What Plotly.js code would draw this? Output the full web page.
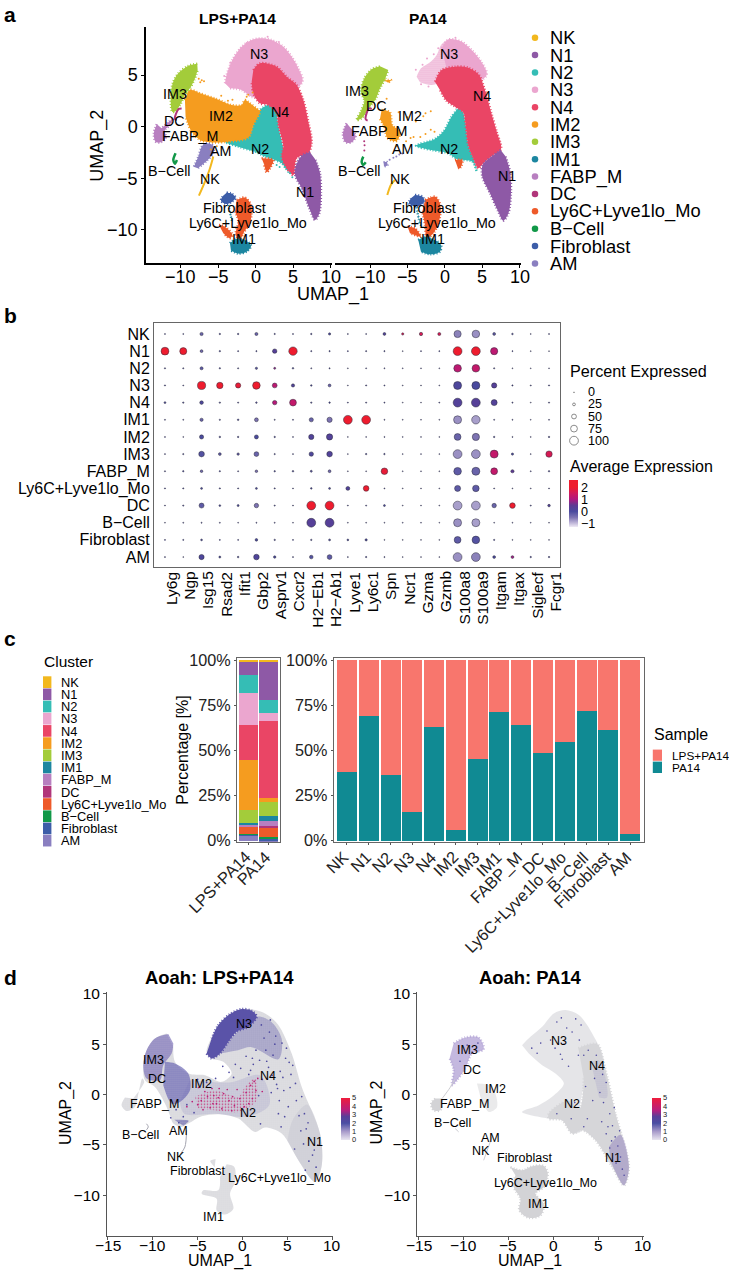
<!DOCTYPE html>
<html>
<head>
<meta charset="utf-8">
<script src="https://cdn.plot.ly/plotly-3.0.1.min.js"></script>
<style>html,body{margin:0;padding:0;background:#fff}</style>
</head>
<body>
<div id="chart"></div>
<script>
// cluster names and colours
const clusters = ['NK','N1','N2','N3','N4','IM2','IM3','IM1','FABP_M','DC','Ly6C+Lyve1lo_Mo','B−Cell','Fibroblast','AM'];
const clusterColors = ['#f2b81e','#8e59a6','#35bdb5','#eba6cf','#ea4565','#f59c1f','#a3cc3a','#1c86a0','#b87fc0','#b1357a','#ee5a2a','#119848','#3c5da8','#8a7fc0'];

// panel a, LPS+PA14 cluster outlines in UMAP units
const a1N3 = [[-4.1,4.2],[-3.88,5],[-3.12,6.45],[-1.87,7.74],[-.53,8.39],[.58,8.55],[2.14,8.39],[3.7,7.74],[4.81,6.77],[5.7,5.65],[6.24,4.35],[3.03,2.74],[-.53,2.9],[-1.87,3.55],[-3.43,3.71]];
const a1N4 = [[-.31,5.48],[.58,6.13],[2.81,5.81],[4.14,4.84],[5.48,4.03],[6.37,2.58],[7.04,.48],[7.49,-1.45],[7.04,-2.58],[5.48,-3.06],[5.04,-4.68],[4.14,-4.03],[3.48,-2.9],[3.7,-1.94],[3.03,.16],[2.81,1.29],[1.69,2.1],[.58,2.26],[-.31,3.23],[-.53,4.35]];
const a1N2 = [[1.78,2.16],[.58,1.61],[-.31,.16],[-.98,-.97],[-4.1,-1.45],[-2.32,-1.94],[-.09,-2.42],[1.25,-2.9],[3.48,-3.55],[4.37,-4.35],[3.7,-2.1],[3.03,.16],[2.81,1.39]];
const a1N1 = [[7.26,-2.48],[6.15,-2.81],[5.35,-3.87],[5.26,-4.68],[6.15,-5.97],[7.26,-8.06],[7.93,-9.03],[8.51,-8.39],[8.73,-6.29],[8.6,-4.52],[8.02,-3.23]];
const a1IM2 = [[-9.45,2.58],[-8.78,3.55],[-7.44,3.23],[-5.21,2.68],[-3.21,2.1],[-1.87,2.1],[-1.43,2.58],[-.76,2.26],[.13,1.77],[.58,1.52],[-.31,.16],[-.98,-1.06],[-3.65,-1.45],[-6.1,-1.52],[-7.44,-1.29],[-8.56,-.48],[-9.36,.97]];
const a1IM3 = [[-7.8,6.1],[-9,5.9],[-10.34,5.16],[-11,4.35],[-11.32,3.23],[-11.14,1.45],[-10.7,1.5],[-9.98,2.26],[-9.54,3],[-8.78,3.71],[-8.2,4.52],[-7.75,5.48]];
const a1IM1 = [[-3.43,-11.29],[-2.67,-10.87],[-1.43,-10.97],[-.62,-11.52],[-1.2,-12.1],[-2.32,-12.29],[-3.3,-12],null,[-3.65,-7.58],[-3.1,-9.19],[-3.05,-9.19]];
const a1FABP = [[-13.2,.23],[-13.6,-.65],[-13.37,-1.45],[-12.7,-1.52],[-12.03,-1.13],[-12.12,-.32],[-11.68,0],[-11,.8],[-11.58,.48],[-12.57,-.16]];
const a1DC = [[-9.89,1.77],[-10.3,1.7],[-10.8,.75],[-10.55,.65]];
const a1Ly6C = [[-2.54,-7.1],[-1.43,-6.87],[-.62,-7.58],[-.71,-9.19],[-1.65,-10.32],[-2.09,-10.97],[-2.67,-10.48],[-2.32,-9.19],[-2.76,-8.23],null,[-4.9,-9.52],[-4.1,-9.68],[-3.12,-10.48],[-3.43,-10.8],[-4.32,-10.32],null,[.8,-3.06],[2.36,-3.23],[1.92,-4.03],[1.47,-4.42],[1.16,-3.71]];
const a1B = [[-10.7,-2.58],[-11,-3.23],[-10.78,-3.58],[-10.52,-3.23]];
const a1Fibro = [[-3.88,-6.39],[-3.3,-6.45],[-2.67,-6.87],[-3.12,-7.26],[-3.88,-7.48],[-4.63,-7.19],[-4.46,-6.77]];
const a1AM = [[-8.24,-3.87],[-7.66,-2.9],[-7.13,-1.84],[-6.55,-1.61],[-5.66,-1.84],[-5.66,-2.58],[-6.55,-3.32],[-7.75,-4.03]];
const a1NK = [[-7.58,-6.68],[-6.77,-5.32],[-6.1,-4.03],[-5.66,-2.9]];
const a1StrayIM2 = [[-7.6,4.65],[-7.2,4.5],[-6.9,4.4],[-7.4,4.3],[-6.5,2.9],[-4.6,3],[-3.7,2.5],[-1.2,2.9],[-1,3.1],[-.4,3.3],[-3.1,2.6],[-5.2,-1.9],[-6,-2.2]];
const a1StrayN2 = [[4.6,-4.5],[4.9,-4.9],[3.9,-3.9],[2.8,-3.7],[3.2,-3.9]];
const a1StrayN3 = [[-1.2,8.1],[-3.4,6.2],[-4.2,4.9],[3.1,8.2],[1.6,8.7]];

// panel a, PA14 cluster outlines
const a2N3Sparse = [[-3.79,4.84],[-3.21,5.65],[-2,6.23],[-1.11,6.94],[-.45,7.97],[.67,8.48],[1.6,5.6],[0,4.6],[-1.78,4.03],[-3.34,4.29]];
const a2N3 = [[-.45,7.6],[.2,8.3],[.67,8.48],[2.23,8.23],[3.79,7.26],[4.9,6.23],[5.57,5],[3.12,4.03],[.3,5.4]];
const a2N4 = [[-1.34,4.35],[-.45,5.48],[1.34,5.81],[3.12,5.71],[4.55,5],[5.26,3.71],[6.15,1.45],[6.91,-.48],[7.49,-2.16],[6.33,-2.81],[5.12,-3.55],[4.46,-4.03],[3.79,-3.06],[3.12,-1.77],[2.76,.16],[2.45,1.39],[1.34,1.94],[.22,2.48],[-.67,3.55]];
const a2N2 = [[1.87,1.87],[.89,.97],[-.22,-.48],[-1.34,-1.19],[-3.88,-1.84],[-1.78,-2.26],[.45,-2.58],[1.56,-3.13],[3.65,-3.39],[4.23,-4.35],[3.79,-3.06],[3.12,-1.77],[2.76,.16],[2.45,1.39]];
const a2N1 = [[7.44,-2.26],[6.24,-2.9],[5.04,-3.71],[4.99,-4.84],[6.02,-6.45],[7.13,-8.23],[7.8,-9.1],[8.47,-8.39],[8.82,-6.45],[8.69,-4.35],[8.11,-2.9]];
const a2IM2 = [[-8.47,1.61],[-7.35,1.39],[-7.04,.16],[-6.02,-.48],[-6.46,-1.39],[-7.66,-1.13],[-8.11,0],[-8.69,.74],null,[-8.1,4.5],[-7.2,4.5],[-7.6,4.25]];
const a2IM3 = [[-8.69,5.84],[-9.8,5.55],[-10.78,4.68],[-11.23,3.39],[-10.78,2.48],[-11.23,1.52],[-11.81,.65],[-11.14,.81],[-10.03,1.94],[-9.27,2.68],[-8.69,3.71],[-8.02,4.61],[-7.58,5.48]];
const a2IM1 = [[-3.57,-10.97],[-2.67,-10.65],[-1.34,-10.97],[-.53,-11.45],[-.67,-12.1],[-2,-12.35],[-3.21,-12.1],null,[-3.8,-7.8],[-3.3,-9.5],[-3.25,-9.5]];
const a2FABP = [[-13.15,.32],[-13.64,-.65],[-13.37,-1.45],[-12.61,-1.55],[-11.94,-.97],[-12.48,-.23]];
const a2DC = [[-9.8,1.71],[-10.16,1.77],[-10.61,.74],[-10.34,.58]];
const a2Ly6C = [[-2.67,-7.1],[-1.34,-6.77],[-.62,-7.58],[-.8,-9.19],[-1.56,-10.32],[-2.45,-10.81],[-2.67,-9.52],[-3.03,-8.23],null,[-4.99,-9.68],[-4.01,-9.84],[-3.21,-10.65],[-3.79,-10.55],[-4.68,-10.32],null,[1.34,-3.23],[2.32,-3.23],[2.14,-3.87],[1.78,-4.13]];
const a2B = [[-10.92,-2.9],[-11.14,-3.39],[-10.92,-3.71],[-10.6,-3.45]];
const a2Fibro = [[-4.01,-6.61],[-3.03,-6.77],[-2.76,-7.26],[-3.79,-7.74],[-4.81,-7.42],[-4.55,-6.94]];
const a2AM = [[-8.2,-3.5],[-7.8,-3.4],[-7.7,-3.75],[-8.15,-3.85]];
const a2NK = [[-7.71,-6.61],[-7.2,-5.6],[-6.68,-5.16]];
const a2StrayIM2 = [[-2.6,1.3],[-1.9,1.5],[-2.9,1],[-1.4,-.5],[-1.9,-.3],[-2.6,-.7],[-3.3,-1],[-4.2,-1],[-4.6,-1.1],[-5.2,-1.4],[-3.9,.5],[-5,.9],[-6.2,1.4],[-8.8,2.3],[-7.8,2.7],[-6.4,-1.9]];
const a2StrayAM = [[-7.4,-3.2],[-6.9,-3],[-6.5,-2.9],[-6.1,-2.7],[-5.7,-2.6]];
const a2StrayN3 = [[-2.4,6.6],[-3,6],[-3.9,5.5],[-3.2,4.1],[-2.2,3.9],[-1.5,7],[-.9,7.6],[1.4,8.6]];
const a2StrayB = [[-10.78,-2.3],[-10.75,-1.8],[-10.8,-1.4]];

// panel a labels, pixel places
const aLabelNames = ['N3','IM3','N4','IM2','DC','FABP_M','AM','N2','B−Cell','NK','N1','Fibroblast','Ly6C+Lyve1lo_Mo','IM1'];
const a1LabelX = [259,175,279.5,220.6,174.8,190,220.6,259.8,169.6,210.3,304.7,234.6,248,243.5];
const a1LabelY = [54,94,112,115.7,121,136,150.7,149.3,171,179,192,207.7,222.7,238.7];
const a2LabelX = [448.6,356.5,482,410,376.6,379,402.8,449,359.3,400,506.5,424.3,437.4,433];
const a2LabelY = [54,90.7,96,115.7,105.7,131.3,149,149,171,179,175.7,207.7,222.7,238.7];
const aXTicks = [-10,-5,0,5,10];
const dXTicks = [-15,-10,-5,0,5,10];

// panel b dot plot
const genes = ['Ly6g','Ngp','Isg15','Rsad2','Ifit1','Gbp2','Asprv1','Cxcr2','H2−Eb1','H2−Ab1','Lyve1','Ly6c1','Spn','Ncr1','Gzma','Gzmb','S100a8','S100a9','Itgam','Itgax','Siglecf','Fcgr1'];
const dotRows = ['NK','N1','N2','N3','N4','IM1','IM2','IM3','FABP_M','Ly6C+Lyve1lo_Mo','DC','B−Cell','Fibroblast','AM'];
const pctExpressed = [
  [3,3,30,8,8,28,6,4,8,18,3,3,25,18,32,28,80,85,25,10,2,4],
  [88,78,25,8,4,5,45,95,5,6,3,5,5,2,3,3,100,100,80,3,2,2],
  [6,5,28,7,5,18,15,10,4,5,2,3,3,2,2,2,85,85,6,2,1,2],
  [5,3,92,70,55,85,50,30,10,25,2,5,4,2,2,2,90,90,55,6,4,5],
  [14,8,35,8,5,10,45,75,8,9,3,5,4,2,2,3,100,100,65,5,2,5],
  [4,3,30,6,10,38,4,4,42,55,100,100,3,2,2,2,90,95,4,3,1,3],
  [3,2,42,10,8,40,8,3,55,68,2,2,3,2,2,2,75,80,8,3,2,8],
  [3,6,60,25,20,50,6,3,45,60,2,8,8,2,2,2,100,100,90,18,2,70],
  [5,8,22,6,4,22,8,10,15,25,2,2,72,2,2,2,85,90,75,30,3,8],
  [4,5,14,6,4,14,5,3,10,14,38,60,3,2,2,2,65,72,3,2,2,3],
  [3,6,52,12,15,45,5,3,100,100,3,4,14,2,2,2,100,100,45,60,4,22],
  [2,3,4,3,2,3,3,2,100,100,2,2,2,2,2,1,90,90,2,2,1,2],
  [3,4,12,3,3,22,8,3,8,14,12,18,2,2,2,2,75,85,6,2,2,2],
  [4,2,55,15,10,60,20,4,35,50,3,7,4,2,2,2,100,100,25,25,8,8]
];
const avgExpression = [
  [0,0,-.3,0,0,-.3,0,0,0,0,0,0,.2,1.6,1.6,1.6,-.6,-.7,-.2,0,0,0],
  [2,2,-.4,0,0,0,.3,2,0,0,0,0,0,0,0,0,2,2,1.2,0,0,0],
  [0,0,-.2,0,0,-.1,.8,0,0,0,0,0,0,0,0,0,1.2,1.3,0,0,0,0],
  [0,0,2,2,1.9,2,1.2,.2,0,-.3,0,0,0,0,0,0,.1,0,.3,0,0,0],
  [0,0,.1,0,0,-.2,1.1,1.3,0,0,0,0,0,0,0,0,.25,.3,.25,0,0,0],
  [0,0,-.3,0,0,-.5,0,0,-.3,-.5,2,2,0,0,0,0,-.7,-.8,0,0,0,0],
  [0,0,0,0,0,0,0,0,.2,.25,0,0,0,0,0,0,-.3,-.5,0,0,0,0],
  [0,0,-.1,-.2,-.2,-.3,0,0,.1,.2,0,0,0,0,0,0,-.7,-.7,1.3,0,0,1.6],
  [0,0,-.4,0,0,-.5,0,0,-.2,-.4,0,0,1.9,0,0,0,-.2,-.3,1.3,.5,0,0],
  [0,0,0,0,0,0,0,0,0,0,.2,2,0,0,0,0,-.2,-.2,0,0,0,0],
  [0,0,-.2,0,0,-.5,0,0,2,2,0,0,0,0,0,0,-.8,-.8,-.3,2,0,.2],
  [0,0,0,0,0,0,0,0,.3,.3,0,0,0,0,0,0,-.7,-.8,0,0,0,0],
  [0,0,0,0,0,0,0,0,0,0,0,0,0,0,0,0,-.2,-.1,0,0,0,0],
  [0,0,.1,0,0,.15,0,0,-.1,-.2,0,0,0,0,0,0,-.7,-.6,0,.9,0,0]
];
const pctLegendValues = [0,25,50,75,100];

// panel c, stacked shares per cluster (same order as clusters)
const shareLPS = [.6,7.2,10,18,19.2,27.5,7.2,1.1,.7,.2,4.2,.3,.5,3];
const sharePA14 = [.4,21.4,7.4,4.2,42.9,1.8,8.1,2.8,2.8,.3,5.6,.5,1,.5];
const sampleNames = ['LPS+PA14','PA14'];
const samplePA14 = [38,69,36.5,16,63,6,45.5,71,64,48.5,54.5,72,61.5,4];
const sampleLPS = [62,31,63.5,84,37,94,54.5,29,36,51.5,45.5,28,38.5,96];

// panel d, LPS+PA14 regions
const d1Base = [[-8.46,6.06],[-9.76,5.56],[-10.69,4.4],[-11.06,2.91],[-10.87,1.42],[-9.76,.76],[-8.64,-.89],[-8.09,-2.05],[-7.71,-2.88],[-6.78,-3.21],[-6.04,-2.88],[-4.55,-2.15],[-2.51,-1.95],[-.46,-2.38],[1.39,-3.71],[2.51,-3.28],[4.37,-3.87],[6.23,-6.52],[8.09,-8.68],[8.83,-7.02],[8.64,-3.87],[6.6,.76],[5.48,4.07],[3.99,6.89],[2.51,8.05],[.46,8.48],[-1.58,7.88],[-3.07,6.23],[-4,4.24],[-3.44,3.58],[-2.14,3.25],[-1.21,2.09],[-2.32,1.26],[-4.18,1.92],[-6.04,2.09],[-7.53,3.25],[-7.71,4.74]];
const d1N1 = [[6.2,-6.5],[8.09,-8.68],[8.83,-7.02],[8.64,-3.87],[7.2,-1],[5.6,-2.5],[5,-4.6]];
const d1Low = [[-13.1,-.3],[-13.48,-1.06],[-12.92,-1.62],[-11.99,-1.23],[-11.6,.1],[-11.17,1.59],[-10.95,1.26],[-12.18,-.4],null,[-1.77,-6.92],[-.91,-7.19],[-.84,-8.68],[-1.39,-9.83],[-1.02,-11.32],[-1.95,-11.89],[-2.88,-11.49],[-2.88,-10.33],[-4.55,-9.83],[-4.37,-9.5],[-2.7,-9.5],[-2.51,-8.18],null,[-3,-6.4],[-3.6,-6.6],[-3.1,-7.2]];
const d1Lines = [[-6.23,-3.54],[-6.42,-5.2],[-6.9,-5.86],null,[-10.7,-2.9],[-10.5,-3.2],[-10.7,-3.5]];
const d1N3Dense = [[-4,4.07],[-3.44,3.58],[-2.51,4.07],[-1.58,5.23],[-.65,6.23],[.65,6.72],[1.58,7.72],[1.02,8.31],[-.09,8.48],[-1.39,7.98],[-2.7,6.89],[-3.44,5.56]];
const d1N3Mid = [[-1.58,5.23],[1.58,7.72],[3.25,7.18],[4.37,5.5],[4,3.5],[1,4.7],[-.5,4.4],[-2.5,4.07]];
const d1IM3 = [[-8.27,6],[-9.76,5.56],[-10.69,4.4],[-11.06,2.91],[-10.69,1.59],[-9.2,1.42],[-8.83,2.91],[-7.9,4.07],[-7.71,5.07]];
const d1IM2 = [[-8.64,3.25],[-7.53,3.08],[-6.04,2.09],[-5.85,.43],[-6.97,-.73],[-7.9,-.89],[-8.83,.93]];
const d1Mix = [[-5.85,1.5],[-1.5,1.2],[2,1.9],[3,-1],[.5,-2.2],[-3,-1.9],[-6.5,-1.9],[-7,-.7]];
const d1Pink = [[-5.3,-.23],[-3.07,.43],[-.46,-.23],[.28,.76],[1.39,1.59],[1.58,-.56],[-.46,-1.72],[-3.07,-1.56],[-4.93,-1.39]];
const d1AMTip = [[-7.6,-2.5],[-6,-2.6],[-6.6,-3.1]];
const d1SpeckX = [2.1,3,3.7,4.4,2.6,3.4,4.8,5.2,1.9,2.9,4.2,5.4,5.9,3.8,4.6,1.2,2.2,3.2,4.1,5.1,6,6.3,.9,1.8,7.1,7.6,8,7.4,8.2,6.8,-.8,-2.2,-1.5,
  3.1,3.6,2.4,4.9,5.6,4.5,3.3,1.5,.4,2.7,4,5.3,6.6,6.9,7.3,6.5,7.8,8.4,7,5.8,4.3,2,-.2,.7,1.1,3.9,4.7,-1,-3,-4,-5,-6.2,-7.4,-8,-7.1,-6.6,-5.4];
const d1SpeckY = [6.9,6.2,5.8,5.1,4.4,3.9,3.6,3.2,3.4,2.7,2.3,2,1.1,1,.4,3,1.5,.2,-.6,-1.2,-.6,-2.1,2.4,-.1,-3.4,-4.5,-5.5,-6.6,-7.2,-4.9,3,2.8,2.2,
  7.4,5,5.6,4.6,2.9,1.7,1.9,4.4,3.8,3.3,-1.9,.7,-.2,-1.9,-2.8,-3.6,-6,-5,-7.5,-5.4,-3.2,-2.9,2.6,2,3.6,.6,-2.2,1.7,1.6,1.2,1.5,-1,-1.5,-2.3,-2.8,-2.2,-1.8];
const d1SpeckPinkX = [-4.6,-3.9,-3.3,-2.7,-2.1,-1.5,-.9,-.3,.4,.9,1.3,1.1,-3.6,-2.9,-2.3,-1.7,-1.1,-4.2,-5,-2.6,-3.2,.7,1.5,-5.6,-4.4,-3.4,-1.2,-.6,.2,1.7,2.2,-6.2,-4.9];
const d1SpeckPinkY = [-.6,-.2,-.9,-.3,.1,-.6,-1.1,-.4,.2,.9,1.3,-.4,-1.3,-.9,-1.4,.5,-.2,.3,-1,.6,-.1,-.9,.4,-.7,-1.5,.6,-1.6,.5,-1.2,1.6,.3,-1.2,.7];

// panel d, PA14 regions
const d2Sparse = [[-3.48,4.9],[-2.55,5.73],[-1.24,6.72],[.06,8.05],[1.36,8.38],[2.85,7.88],[4.34,6.06],[5.65,3.08],[4,2],[3,-1],[3.22,-3.54],[2.11,-3.87],[.99,-2.55],[-.5,-2.38],[-3.48,-1.72],[-1.61,-1.06],[-.13,-.23],[1.18,1.09],[.24,2.09],[-1.24,2.91],[-2.73,4.07]];
const d2Dense = [[2.8,4.6],[4.9,5],[5.65,3.08],[6.95,-1.89],[8.44,-7.19],[7.88,-9.01],[6.58,-7.19],[4.71,-4.54],[3.22,-3.54],[2.11,-3.87],[.99,-2.55],[-.5,-2.38],[-.5,-1.9],[1.7,-.6],[2.9,-1.4],[3.4,1.6]];
const d2N1Tint = [[6.4,-6.6],[7.88,-9.01],[8.44,-7.19],[7.5,-4],[6.2,-5.2]];
const d2N4Tint = [[4.2,3.2],[5.1,3.4],[6,-.3],[5.1,-.3]];
const d2Low = [[-4.78,-7.19],[-3.48,-7.52],[-2.36,-7.12],[-1.06,-7.09],[-.61,-7.85],[-1.06,-9.17],[-2,-9.83],[-1.06,-10.83],[-1.43,-11.99],[-2.73,-12.22],[-3.78,-11.49],[-3.66,-10.33],[-4.41,-9.17],[-4.22,-8.01],null,[-13.16,-.4],[-13.61,-.89],[-13.35,-1.56],[-12.6,-1.56],[-12.41,-.4]];
const d2IM2 = [[-8.51,1.09],[-6.83,.76],[-6.27,-1.23],[-7.2,-1.72],[-8.13,-.23]];
const d2IM3 = [[-11.11,5.07],[-9.81,5.66],[-8.32,5.66],[-7.76,4.47],[-9.07,4.07],[-9.81,2.58],[-10.74,1.42],[-11.3,.93],[-11.11,2.42],[-11.56,3.58]];
const d2Lines = [[-12.4,-.4],[-11.5,.7],[-11,1.5],null,[-6.83,-4.2],[-7.76,-6.52],null,[-10.93,-3.38],[-10.55,-3.7]];
const d2SpeckX = [-.7,.4,1.2,2.1,2.9,3.4,4.2,1.7,-1.4,-2.4,3.6,4.6,5.2,5.6,5.9,6.3,6.6,6.9,7.2,7.5,7.7,7,6.3,5.4,-9.6,-9.1,-10.4,-8.4,.8,2.4,
  .9,2.5,3.1,3.9,1.5,-.3,-1.8,1,.2,2.8,4.8,5.5,4.4,3.8,6.1,6.8,7.4,7.9,6.5,5.9,2,3.4,.4];
const d2SpeckY = [6.3,7.2,5,6.2,5.4,3.9,3.2,2.8,5.1,4.6,.8,1.6,.2,-.8,1.2,-1.9,-3.1,-4.2,-5.1,-6.2,-7.4,-6.8,-5.3,-2.7,4.9,4.1,3.3,5.1,4,-.8,
  7.6,7.5,6.9,4.4,6.6,5.4,4.1,3.5,4.6,3.9,3.9,2,-.6,-2.4,-3.2,-1.3,-3.6,-8,-4.6,-3.9,-2.4,-3.2,-1.9];

// panel d labels
const dLabelNames = ['N3','IM3','DC','IM2','N4','FABP_M','N2','B−Cell','AM','N1','NK','Fibroblast','Ly6C+Lyve1lo_Mo','IM1'];
const d1LabelX = [244,153.3,157,201.4,268.2,154.2,247.7,140.2,178,315.4,175.7,197.2,279.4,213.6];
const d1LabelY = [1024.3,1060,1079.3,1084.3,1076.3,1104.3,1113.3,1135,1130.7,1142,1157.3,1171.3,1178,1217];
const d2LabelX = [559.3,467.3,472.4,495.8,596.7,464.5,572,452.3,490.2,612.6,481.3,524.3,545.8,538.8];
const d2LabelY = [1040.7,1049.7,1070.3,1089.3,1065.7,1104.3,1104.3,1122.7,1137.7,1158,1151,1158.3,1183.3,1204.3];

const W = 729, H = 1275;
const FONT = '"Liberation Sans", Arial, sans-serif';
const xDom = (l, r) => [l / W, r / W];
const yDom = (t, b) => [1 - b / H, 1 - t / H];
const colorOf = name => clusterColors[clusters.indexOf(name)];

const expressionScale = [[0,'#efeaf5'],[.077,'#c5bcdc'],[.205,'#7d73b2'],[.333,'#4a4a9e'],[.46,'#5e3a94'],[.59,'#b0187f'],[.718,'#d01a5c'],[.846,'#ee1c2e'],[1,'#ee1c2e']];
const aoahScale = [[0,'#e9e6f0'],[.2,'#a99ccb'],[.4,'#4a4ea3'],[.56,'#5a3f98'],[.7,'#b4207f'],[1,'#ef1c3c']];

function xs(pts) { return pts.map(p => p ? p[0] : null); }
function ys(pts) { return pts.map(p => p ? p[1] : null); }

// dashed outline makes the edge of a filled cluster look grainy like the point cloud
function region(pts, color, ax, extra) {
  return Object.assign({
    x: xs(pts), y: ys(pts), xaxis: 'x' + ax, yaxis: 'y' + ax,
    type: 'scatter', mode: 'lines', fill: 'toself', fillcolor: color,
    line: { color: color, width: 2.4, dash: '1px,2px', shape: 'spline', smoothing: .9 }, hoverinfo: 'skip', showlegend: false
  }, extra || {});
}
function strays(pts, color, ax, size) {
  return {
    x: xs(pts), y: ys(pts), xaxis: 'x' + ax, yaxis: 'y' + ax, type: 'scatter', mode: 'markers',
    marker: { color: color, size: size || 2 }, hoverinfo: 'skip', showlegend: false
  };
}
function stipple(pts, fg, ax, size, solidity, bg) {
  return region(pts, 'rgba(0,0,0,0)', ax, {
    line: { width: 0, color: fg, shape: 'spline', smoothing: .9 },
    fillpattern: { shape: '.', fgcolor: fg, bgcolor: bg || 'rgba(255,255,255,0)', size: size, solidity: solidity }
  });
}
function thin(pts, color, ax, width) {
  return region(pts, 'rgba(0,0,0,0)', ax, { line: { color: color, width: width, shape: 'spline', smoothing: .9 } });
}

const traces = [];

// panel a
traces.push(
  region(a1N3, colorOf('N3'), 1), region(a1N2, colorOf('N2'), 1), region(a1IM2, colorOf('IM2'), 1),
  region(a1N4, colorOf('N4'), 1), region(a1N1, colorOf('N1'), 1), region(a1IM3, colorOf('IM3'), 1),
  thin(a1DC, colorOf('DC'), 1, 2), region(a1FABP, colorOf('FABP_M'), 1), region(a1AM, colorOf('AM'), 1),
  thin(a1NK, colorOf('NK'), 1, 2),
  thin(a1B, colorOf('B−Cell'), 1, 2.5), region(a1Ly6C, colorOf('Ly6C+Lyve1lo_Mo'), 1),
  region(a1Fibro, colorOf('Fibroblast'), 1), region(a1IM1, colorOf('IM1'), 1),
  strays(a1StrayIM2, colorOf('IM2'), 1), strays(a1StrayN2, colorOf('N2'), 1), strays(a1StrayN3, colorOf('N3'), 1)
);
traces.push(
  stipple(a2N3Sparse, colorOf('N3'), 2, 2, .55, 'rgba(235,166,207,.35)'), region(a2N3, colorOf('N3'), 2),
  region(a2N2, colorOf('N2'), 2), region(a2IM2, colorOf('IM2'), 2),
  region(a2N4, colorOf('N4'), 2), region(a2N1, colorOf('N1'), 2), region(a2IM3, colorOf('IM3'), 2),
  thin(a2DC, colorOf('DC'), 2, 2), region(a2FABP, colorOf('FABP_M'), 2), region(a2AM, colorOf('AM'), 2),
  thin(a2NK, colorOf('NK'), 2, 2),
  thin(a2B, colorOf('B−Cell'), 2, 2.5), region(a2Ly6C, colorOf('Ly6C+Lyve1lo_Mo'), 2),
  region(a2Fibro, colorOf('Fibroblast'), 2), region(a2IM1, colorOf('IM1'), 2),
  strays(a2StrayIM2, colorOf('IM2'), 2), strays(a2StrayAM, colorOf('AM'), 2),
  strays(a2StrayN3, colorOf('N3'), 2), strays(a2StrayB, colorOf('DC'), 2)
);
// legend dots of panel a, on the pixel overlay
traces.push({
  x: clusters.map(() => 535), y: clusters.map((c, i) => 37.7 + i * 17.36),
  xaxis: 'x8', yaxis: 'y8', type: 'scatter', mode: 'markers',
  marker: { color: clusterColors, size: 6.5 }, hoverinfo: 'skip', showlegend: false
});

// panel b
const dotSize = p => .8 + p / 100 * 8;
const dotX = [], dotY = [], dotS = [], dotC = [];
dotRows.forEach((r, i) => genes.forEach((g, j) => {
  dotX.push(g); dotY.push(r);
  dotS.push(dotSize(pctExpressed[i][j])); dotC.push(avgExpression[i][j]);
}));
traces.push({
  x: dotX, y: dotY, xaxis: 'x3', yaxis: 'y3', type: 'scatter', mode: 'markers', showlegend: false, hoverinfo: 'skip',
  marker: {
    size: dotS, color: dotC, cmin: -1.3, cmax: 2.6, colorscale: expressionScale,
    line: { color: '#2a2a3a', width: .5 }, opacity: 1,
    colorbar: {
      x: 569 / W, xanchor: 'left', xpad: 0, y: 1 - 480 / H, yanchor: 'top', ypad: 0,
      len: 47, lenmode: 'pixels', thickness: 9, thicknessmode: 'pixels', outlinewidth: 0,
      tickvals: [-1, 0, 1, 2], ticktext: ['−1', '0', '1', '2'], ticks: '', tickfont: { size: 12.6, family: FONT, color: '#000' }
    }
  }
});
traces.push({
  x: pctLegendValues.map(() => 574), y: pctLegendValues.map((p, i) => 392.3 + i * 12.1),
  xaxis: 'x8', yaxis: 'y8', type: 'scatter', mode: 'markers', showlegend: false, hoverinfo: 'skip',
  marker: { size: pctLegendValues.map(dotSize), color: 'rgba(255,255,255,0)', line: { color: '#333', width: .8 } }
});

// panel c left stack, NK on top so AM goes in first
for (let i = clusters.length - 1; i >= 0; i--) {
  traces.push({
    x: sampleNames, y: [shareLPS[i], sharePA14[i]], name: clusters[i], xaxis: 'x4', yaxis: 'y4', type: 'bar',
    marker: { color: clusterColors[i], line: { width: 0 } }, showlegend: false, hoverinfo: 'skip'
  });
}
traces.push(
  { x: clusters, y: samplePA14, name: 'PA14', xaxis: 'x5', yaxis: 'y5', type: 'bar', marker: { color: '#108a93', line: { width: 0 } }, showlegend: false, hoverinfo: 'skip' },
  { x: clusters, y: sampleLPS, name: 'LPS+PA14', xaxis: 'x5', yaxis: 'y5', type: 'bar', marker: { color: '#f8766d', line: { width: 0 } }, showlegend: false, hoverinfo: 'skip' }
);

// panel d
const GREY = '#bfbfc4', PURPLE = '#4d479f';
traces.push(
  stipple(d1Base, GREY, 6, 2, .4, '#efeff2'),
  stipple(d1N1, '#c4c4ce', 6, 2, .5),
  stipple(d1Low, GREY, 6, 2, .4, '#f0f0f3'),
  thin(d1Lines, '#a5a5b0', 6, 1),
  stipple(d1Mix, '#8d88c0', 6, 2, .3),
  stipple(d1N3Mid, '#5f58a8', 6, 2, .4),
  stipple(d1IM2, '#5753a8', 6, 2, .55, 'rgba(150,145,205,.35)'),
  stipple(d1IM3, '#6a5fae', 6, 2, .55, 'rgba(170,160,210,.35)'),
  stipple(d1Pink, '#c7407f', 6, 3, .22),
  region(d1N3Dense, '#5a53a8', 6),
  stipple(d1AMTip, PURPLE, 6, 2, .6)
);
traces.push({
  x: d1SpeckX.concat(d1SpeckPinkX), y: d1SpeckY.concat(d1SpeckPinkY), xaxis: 'x6', yaxis: 'y6', type: 'scatter', mode: 'markers', showlegend: false, hoverinfo: 'skip',
  marker: {
    size: 1.7, cmin: 0, cmax: 5, colorscale: aoahScale,
    color: d1SpeckX.map(() => 2.2).concat(d1SpeckPinkX.map(() => 3.7)),
    colorbar: {
      x: 341 / W, xanchor: 'left', xpad: 0, y: 1 - 1097.7 / H, yanchor: 'top', ypad: 0,
      len: 42, lenmode: 'pixels', thickness: 8.5, thicknessmode: 'pixels', outlinewidth: 0,
      tickvals: [0, 1, 2, 3, 4, 5], ticks: '', tickfont: { size: 7.5, family: FONT, color: '#222' }
    }
  }
});
traces.push(
  stipple(d2Sparse, '#c4c4c8', 7, 2, .32, 'rgba(240,240,243,.5)'),
  region(d2Dense, '#d6d6d9', 7),
  stipple(d2N1Tint, '#8674b8', 7, 2, .5),
  stipple(d2N4Tint, '#9a92c2', 7, 2, .3),
  region(d2Low, '#d3d3d6', 7),
  stipple(d2IM2, '#cfcfd2', 7, 2, .5),
  region(d2IM3, 'rgba(176,160,212,.75)', 7),
  thin(d2Lines, '#cdcdd2', 7, 1)
);
traces.push({
  x: d2SpeckX, y: d2SpeckY, xaxis: 'x7', yaxis: 'y7', type: 'scatter', mode: 'markers', showlegend: false, hoverinfo: 'skip',
  marker: {
    size: 1.6, cmin: 0, cmax: 5, colorscale: aoahScale, color: d2SpeckX.map(() => 2.2),
    colorbar: {
      x: 652 / W, xanchor: 'left', xpad: 0, y: 1 - 1097.7 / H, yanchor: 'top', ypad: 0,
      len: 42, lenmode: 'pixels', thickness: 8.5, thicknessmode: 'pixels', outlinewidth: 0,
      tickvals: [0, 1, 2, 3, 4, 5], ticks: '', tickfont: { size: 7.5, family: FONT, color: '#222' }
    }
  }
});

// text helper: places are page pixels
function txt(x, y, text, size, opts) {
  return Object.assign({
    xref: 'paper', yref: 'paper', x: x / W, y: 1 - y / H, text: text, showarrow: false, borderpad: 0,
    font: { size: size, family: FONT, color: '#000' }, xanchor: 'center', yanchor: 'middle'
  }, opts || {});
}
const annotations = [
  txt(3, 14, '<b>a</b>', 21, { xanchor: 'left' }), txt(3, 315, '<b>b</b>', 21, { xanchor: 'left' }),
  txt(3, 638, '<b>c</b>', 21, { xanchor: 'left' }), txt(3, 977, '<b>d</b>', 21, { xanchor: 'left' }),
  txt(238, 18, '<b>LPS+PA14</b>', 15.5), txt(428, 18, '<b>PA14</b>', 15.5),
  txt(333, 294, 'UMAP_1', 18), txt(98, 145.7, 'UMAP_2', 18, { textangle: -90 }),
  txt(183, 750.7, 'Percentage [%]', 16, { textangle: -90 }),
  txt(219.6, 977, '<b>Aoah: LPS+PA14</b>', 18.4), txt(530, 977, '<b>Aoah: PA14</b>', 18.4),
  txt(219.6, 1261, 'UMAP_1', 16), txt(530, 1261, 'UMAP_1', 16),
  txt(66, 1113, 'UMAP_2', 16, { textangle: -90 }), txt(376.6, 1113, 'UMAP_2', 16, { textangle: -90 }),
  txt(569, 371, 'Percent Expressed', 16.2, { xanchor: 'left' }),
  txt(569, 466, 'Average Expression', 16, { xanchor: 'left' }),
  txt(43, 661.7, 'Cluster', 15.5, { xanchor: 'left' }),
  txt(652.8, 734.3, 'Sample', 16, { xanchor: 'left' }),
  txt(670.6, 755.7, 'LPS+PA14', 11.8, { xanchor: 'left' }), txt(670.6, 767.7, 'PA14', 11.8, { xanchor: 'left' })
];
aLabelNames.forEach((n, i) => {
  annotations.push(txt(a1LabelX[i], a1LabelY[i], n, 14.3), txt(a2LabelX[i], a2LabelY[i], n, 14.3));
});
dLabelNames.forEach((n, i) => {
  annotations.push(txt(d1LabelX[i], d1LabelY[i], n, 12.5), txt(d2LabelX[i], d2LabelY[i], n, 12.5));
});
clusters.forEach((n, i) => {
  annotations.push(txt(549, 37.7 + i * 17.36, n, 18.3, { xanchor: 'left' }));
  annotations.push(txt(60, 682.3 + i * 12.19, n, 12.8, { xanchor: 'left' }));
});
pctLegendValues.forEach((p, i) => {
  annotations.push(txt(586.5, 392.3 + i * 12.1, String(p), 12.6, { xanchor: 'left' }));
});
genes.forEach((g, j) => {
  annotations.push({
    xref: 'x3', yref: 'paper', x: j, y: 1 - 570.5 / H, xshift: 6, text: g, showarrow: false, textangle: -90, borderpad: 0,
    font: { size: 15.5, family: FONT, color: '#000' }, xanchor: 'center', yanchor: 'top'
  });
});

// x tick labels sit closer to the axis than the library puts them, so they go in as text tied to the axis
function xTick(axis, value, y, size) {
  const label = typeof value === 'number' && value < 0 ? '−' + Math.abs(value) : String(value);
  return {
    xref: axis, yref: 'paper', x: value, y: 1 - y / H, text: label, showarrow: false, borderpad: 0,
    font: { size: size, family: FONT, color: '#000' }, xanchor: 'center', yanchor: 'middle'
  };
}
aXTicks.forEach(v => annotations.push(xTick('x', v, 276.7, 18), xTick('x2', v, 276.7, 18)));
dXTicks.forEach(v => annotations.push(xTick('x6', v, 1245.7, 15.5), xTick('x7', v, 1245.7, 15.5)));
function slantTick(axis, name, i) {
  return {
    xref: axis, yref: 'paper', x: i, y: 1 - 846.5 / H, xshift: 6.5, text: name, showarrow: false, textangle: -45, borderpad: 0,
    font: { size: 16.4, family: FONT, color: '#222' }, xanchor: 'right', yanchor: 'top'
  };
}
sampleNames.forEach((n, i) => annotations.push(slantTick('x4', n, i)));
clusters.forEach((n, i) => annotations.push(slantTick('x5', n, i)));

// legend swatches of panel c
const shapes = [];
clusterColors.forEach((c, i) => {
  shapes.push({ type: 'rect', xref: 'paper', yref: 'paper', x0: 43 / W, x1: 51.4 / W, y0: 1 - (676.3 + i * 12.19) / H, y1: 1 - (688 + i * 12.19) / H, fillcolor: c, line: { width: 0 } });
});
shapes.push(
  { type: 'rect', xref: 'paper', yref: 'paper', x0: 652.8 / W, x1: 662 / W, y0: 1 - 749.6 / H, y1: 1 - 760.8 / H, fillcolor: '#f8766d', line: { width: 0 } },
  { type: 'rect', xref: 'paper', yref: 'paper', x0: 652.8 / W, x1: 662 / W, y0: 1 - 761.6 / H, y1: 1 - 773 / H, fillcolor: '#108a93', line: { width: 0 } }
);

const tickFontA = { size: 18, family: FONT, color: '#000' };
const tickFontC = { size: 16.2, family: FONT, color: '#222' };
const tickFontD = { size: 15.5, family: FONT, color: '#000' };
const layout = {
  width: W, height: H, margin: { l: 0, r: 0, t: 0, b: 0 }, paper_bgcolor: '#fff', plot_bgcolor: 'rgba(0,0,0,0)',
  font: { family: FONT, color: '#000' }, barmode: 'stack', bargap: .08, showlegend: false,
  annotations: annotations, shapes: shapes,
  // panel a
  xaxis: { domain: xDom(146, 332), range: [-14.65, 10.2], anchor: 'y', tickvals: aXTicks, showticklabels: false, showline: true, linecolor: '#000', linewidth: 1.5, ticks: 'outside', ticklen: 3, tickcolor: '#000', showgrid: false, zeroline: false },
  yaxis: { domain: yDom(27, 263), range: [-13.2, 9.65], anchor: 'x', tickvals: [-10, -5, 0, 5], showline: true, linecolor: '#000', linewidth: 1.5, ticks: 'outside', ticklen: 3, tickcolor: '#000', showgrid: false, zeroline: false, tickfont: tickFontA },
  xaxis2: { domain: xDom(335, 521), range: [-14.7, 10.16], anchor: 'y2', tickvals: aXTicks, showticklabels: false, showline: true, linecolor: '#000', linewidth: 1.5, ticks: 'outside', ticklen: 3, tickcolor: '#000', showgrid: false, zeroline: false },
  yaxis2: { domain: yDom(27, 263), range: [-13.2, 9.65], anchor: 'x2', visible: false },
  // panel b
  xaxis3: { domain: xDom(154, 560), range: [-.6, 21.6], anchor: 'y3', type: 'category', categoryorder: 'array', categoryarray: genes, showticklabels: false, ticks: '', showgrid: false, zeroline: false, showline: true, mirror: true, linecolor: '#666', linewidth: 1 },
  yaxis3: { domain: yDom(323, 567), range: [13.58, -.64], anchor: 'x3', type: 'category', categoryorder: 'array', categoryarray: dotRows, tickmode: 'array', tickvals: dotRows, ticks: '', showgrid: false, zeroline: false, showline: true, mirror: true, linecolor: '#666', linewidth: 1, tickfont: { size: 16, family: FONT, color: '#000' } },
  // panel c
  xaxis4: { domain: xDom(237, 280.4), range: [-.577, 1.58], anchor: 'y4', type: 'category', categoryorder: 'array', categoryarray: sampleNames, showticklabels: false, ticks: 'outside', ticklen: 2, tickcolor: '#555', showline: true, mirror: true, linecolor: '#666', linewidth: 1, showgrid: false, zeroline: false },
  yaxis4: { domain: yDom(657.7, 842), range: [-.7, 101.3], anchor: 'x4', tickvals: [0, 25, 50, 75, 100], ticktext: ['0%', '25%', '50%', '75%', '100%'], ticks: 'outside', ticklen: 2, tickcolor: '#555', tickfont: tickFontC, showline: true, mirror: true, linecolor: '#666', linewidth: 1, showgrid: false, zeroline: false },
  xaxis5: { domain: xDom(333.6, 644), range: [-.615, 13.64], anchor: 'y5', type: 'category', categoryorder: 'array', categoryarray: clusters, tickmode: 'array', tickvals: clusters, showticklabels: false, ticks: 'outside', ticklen: 2, tickcolor: '#555', showline: true, mirror: true, linecolor: '#666', linewidth: 1, showgrid: false, zeroline: false },
  yaxis5: { domain: yDom(657.7, 842), range: [-.7, 101.3], anchor: 'x5', tickvals: [0, 25, 50, 75, 100], ticktext: ['0%', '25%', '50%', '75%', '100%'], ticks: 'outside', ticklen: 2, tickcolor: '#555', tickfont: tickFontC, showline: true, mirror: true, linecolor: '#666', linewidth: 1, showgrid: false, zeroline: false },
  // panel d
  xaxis6: { domain: xDom(107, 332.7), range: [-15.1, 10.05], anchor: 'y6', tickvals: dXTicks, showticklabels: false, showline: true, linecolor: '#555', linewidth: 1, ticks: 'outside', ticklen: 3, tickcolor: '#555', showgrid: false, zeroline: false },
  yaxis6: { domain: yDom(991.7, 1235.7), range: [-14, 10.2], anchor: 'x6', tickvals: [-10, -5, 0, 5, 10], showline: true, linecolor: '#555', linewidth: 1, ticks: 'outside', ticklen: 3, tickcolor: '#555', showgrid: false, zeroline: false, tickfont: tickFontD },
  xaxis7: { domain: xDom(417.3, 643.5), range: [-15.16, 10.06], anchor: 'y7', tickvals: dXTicks, showticklabels: false, showline: true, linecolor: '#555', linewidth: 1, ticks: 'outside', ticklen: 3, tickcolor: '#555', showgrid: false, zeroline: false },
  yaxis7: { domain: yDom(991.7, 1235.7), range: [-14, 10.2], anchor: 'x7', tickvals: [-10, -5, 0, 5, 10], showline: true, linecolor: '#555', linewidth: 1, ticks: 'outside', ticklen: 3, tickcolor: '#555', showgrid: false, zeroline: false, tickfont: tickFontD },
  // pixel overlay for legend keys
  xaxis8: { domain: [0, 1], range: [0, W], anchor: 'y8', visible: false, fixedrange: true },
  yaxis8: { domain: [0, 1], range: [H, 0], anchor: 'x8', visible: false, fixedrange: true }
};

Plotly.newPlot('chart', traces, layout, { displayModeBar: false, responsive: false });
</script>
</body>
</html>
